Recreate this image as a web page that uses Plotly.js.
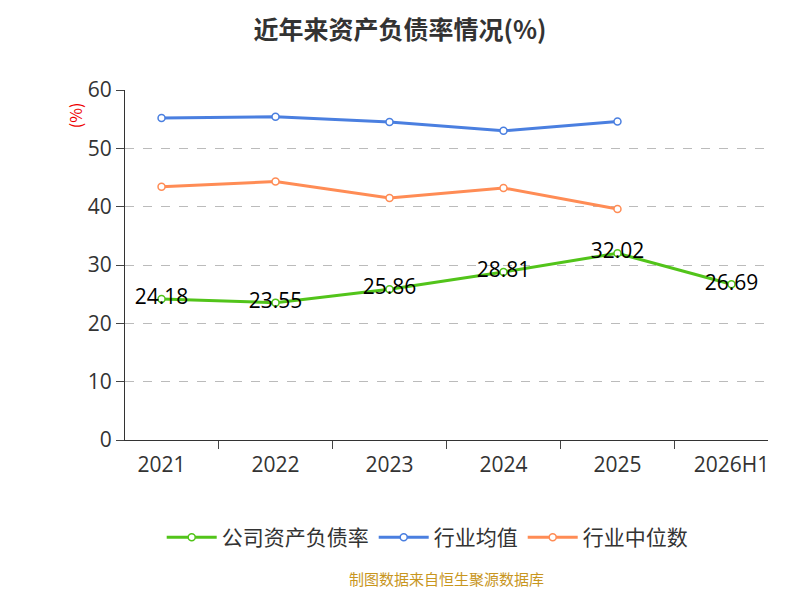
<!DOCTYPE html>
<html><head><meta charset="utf-8">
<script src="https://cdn.plot.ly/plotly-3.0.1.min.js"></script>
</head><body style="margin:0">
<div id="c" style="width:800px;height:600px"></div>
<script>
const categories=["2021","2022","2023","2024","2025","2026H1"];
const company=[24.18,23.55,25.86,28.81,32.02,26.69];
const industryAvg=[55.2,55.4,54.5,53.0,54.6];
const industryMed=[43.4,44.3,41.5,43.2,39.6];
const labels=company.map(v=>v.toFixed(2));
const mk=(c)=>({size:7,color:'#fff',line:{color:c,width:1.5}});
const data=[
{x:categories,y:company,name:'公司资产负债率',mode:'lines+markers+text',text:labels,textposition:'middle center',textfont:{size:21,color:'#000',family:'Open Sans, sans-serif'},line:{color:'#52c41a',width:3},marker:mk('#52c41a')},
{x:categories.slice(0,5),y:industryAvg,name:'行业均值',mode:'lines+markers',line:{color:'#4a7fe0',width:3},marker:mk('#4a7fe0')},
{x:categories.slice(0,5),y:industryMed,name:'行业中位数',mode:'lines+markers',line:{color:'#ff8c55',width:3},marker:mk('#ff8c55')}
];
const layout={width:800,height:600,margin:{l:125,r:32,t:90,b:160},
font:{family:'Noto Sans CJK SC, sans-serif',color:'#333'},
title:{text:'<b>近年来资产负债率情况(%)</b>',x:0.5,y:0.965,font:{size:25,color:'#333'}},
xaxis:{type:'category',tickson:'boundaries',ticks:'outside',ticklen:8,ticklabelstandoff:6,showline:true,linecolor:'#333',tickfont:{size:21,family:'Open Sans, sans-serif'},showgrid:false},
yaxis:{range:[0,60],dtick:10,ticks:'outside',ticklen:8,showline:true,linecolor:'#333',tickfont:{size:21,family:'Open Sans, sans-serif'},gridcolor:'#bbb',griddash:'dash',zeroline:false},
legend:{orientation:'h',x:0.47,xanchor:'center',y:-0.22,font:{size:21},itemwidth:50},
showlegend:true,plot_bgcolor:'#fff',
annotations:[
{text:'(%)',xref:'paper',yref:'paper',x:-0.1,y:0.97,textangle:-90,showarrow:false,font:{size:16,color:'#e00'}},
{text:'制图数据来自恒生聚源数据库',xref:'paper',yref:'paper',x:0.5,y:-0.43,showarrow:false,font:{size:15,color:'#c8961e'}}
]};
Plotly.newPlot('c',data,layout,{displayModeBar:false});
</script></body></html>
